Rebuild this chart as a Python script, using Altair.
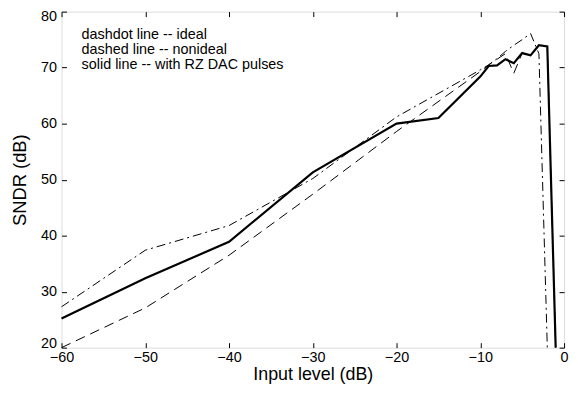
import altair as alt
import pandas as pd

# ---- data ----
level_ideal = [-60, -50, -40, -30, -20, -10, -9, -8, -7, -6, -5, -4, -3, -2]
sndr_ideal = [27.3, 37.4, 41.8, 50.2, 61.2, 69.6, 70.5, 71.6, 72.9, 74.0, 75.0, 76.1, 72.5, 20.0]

level_nonideal = [-60, -50, -40, -30, -20, -10, -9, -8, -7, -6, -5, -4, -3, -2, -1]
sndr_nonideal = [20.0, 27.1, 36.5, 47.4, 58.6, 69.3, 70.5, 71.5, 72.5, 69.0, 72.6, 72.3, 74.0, 73.8, 20.0]

level_rz = [-60, -50, -40, -30, -20, -15, -10, -9, -8, -7, -6, -5, -4, -3, -2, -1]
sndr_rz = [25.2, 32.4, 38.9, 51.3, 60.0, 61.0, 68.4, 70.3, 70.4, 71.5, 70.8, 72.6, 72.2, 74.0, 73.8, 20.0]

note_text = ["dashdot line -- ideal", "dashed line -- nonideal", "solid line -- with RZ DAC pulses"]
note_x = [-57.6, -57.6, -57.6]
note_y = [75.9, 73.2, 70.5]

x_ticks = [-60, -50, -40, -30, -20, -10, 0]
y_ticks = [20, 30, 40, 50, 60, 70, 80]

FONT = "Liberation Sans"

df_ideal = pd.DataFrame({"level": level_ideal, "sndr": sndr_ideal})
df_non = pd.DataFrame({"level": level_nonideal, "sndr": sndr_nonideal})
df_rz = pd.DataFrame({"level": level_rz, "sndr": sndr_rz})
df_note = pd.DataFrame({"level": note_x, "sndr": note_y, "text": note_text})

xs = alt.Scale(domain=[-60, 0], nice=False, zero=False)
ys = alt.Scale(domain=[20, 80], nice=False, zero=False)

x_main = alt.X("level:Q", scale=xs, axis=alt.Axis(
    orient="bottom", values=x_ticks, title="Input level (dB)", domain=False,
    grid=False, tickSize=5, offset=-5, labelPadding=3, labelFlush=False,
    tickColor="black", labelColor="black", labelFont=FONT, labelFontSize=14.5,
    titleFont=FONT, titleFontSize=18, titleFontWeight="normal",
    titleColor="black", titlePadding=2))
y_main = alt.Y("sndr:Q", scale=ys, axis=alt.Axis(
    orient="left", values=y_ticks, title="SNDR (dB)", domain=False,
    grid=False, tickSize=5, offset=-5, labelPadding=5, labelFlush=False,
    labelOffset={"condition": [
        {"test": "datum.value == 80", "value": 5},
        {"test": "datum.value == 20", "value": -4}], "value": 0},
    tickColor="black", labelColor="black", labelFont=FONT, labelFontSize=14.5,
    titleFont=FONT, titleFontSize=18.5, titleFontWeight="normal",
    titleColor="black", titlePadding=11))

x_top = alt.X("level:Q", scale=xs, axis=alt.Axis(
    orient="top", values=x_ticks, title=None, domain=False, grid=False,
    tickSize=5, offset=-5, labels=False, tickColor="black"))
y_right = alt.Y("sndr:Q", scale=ys, axis=alt.Axis(
    orient="right", values=y_ticks, title=None, domain=False, grid=False,
    tickSize=5, offset=-5, labels=False, tickColor="black"))

x_none = alt.X("level:Q", scale=xs, axis=None)
y_none = alt.Y("sndr:Q", scale=ys, axis=None)

ideal = alt.Chart(df_ideal).mark_line(
    color="black", strokeWidth=1, strokeDash=[9, 4, 2, 4]
).encode(x=x_main, y=y_main)

frame_axes = alt.Chart(df_ideal).mark_point(opacity=0).encode(x=x_top, y=y_right)

nonideal = alt.Chart(df_non).mark_line(
    color="black", strokeWidth=1, strokeDash=[10, 6]
).encode(x=x_none, y=y_none)

rz = alt.Chart(df_rz).mark_line(
    color="black", strokeWidth=2.2
).encode(x=x_none, y=y_none)

notes = alt.Chart(df_note).mark_text(
    align="left", baseline="middle", font=FONT, fontSize=14.5, color="black"
).encode(x=x_none, y=y_none, text="text:N")

chart = alt.layer(ideal, frame_axes, nonideal, rz, notes).properties(
    width=507, height=339,
    autosize=alt.AutoSizeParams(type="none"),
    padding={"left": 54, "top": 2, "right": 6, "bottom": 36},
).configure_view(stroke="black", strokeWidth=1.5).configure(background="white")

chart.save("out.html", embed_options={"renderer": "svg", "actions": False})
